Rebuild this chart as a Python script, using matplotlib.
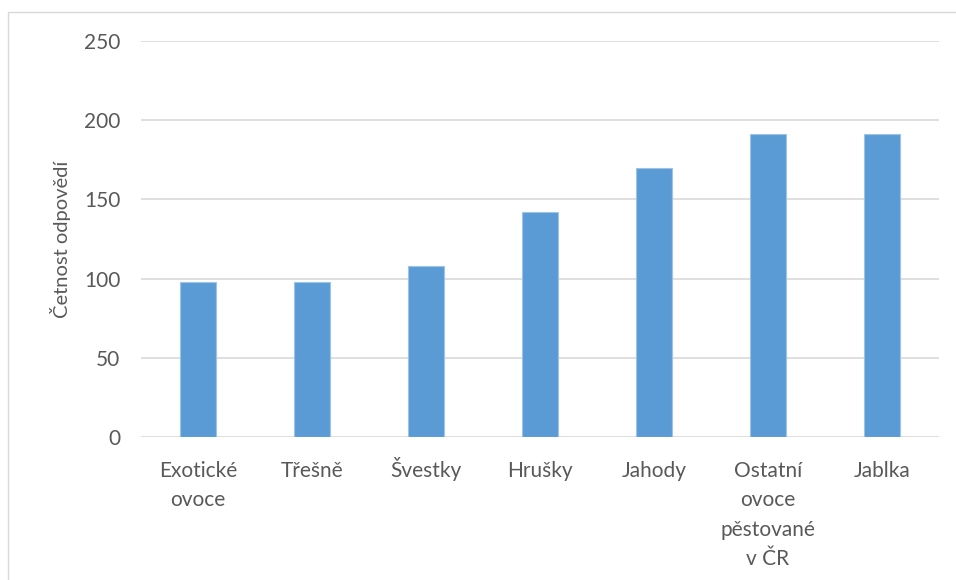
import matplotlib
matplotlib.use("Agg")
import matplotlib.pyplot as plt
from matplotlib.patches import Rectangle

categories = ["Exotické\novoce", "Třešně", "Švestky", "Hrušky", "Jahody",
              "Ostatní\novoce\npěstované\nv ČR", "Jablka"]
values = [98, 98, 108, 142, 170, 191, 191]
yticks = [0, 50, 100, 150, 200, 250]
ylabel = "Četnost odpovědí"

plt.rcParams['font.family'] = ['Lato', 'DejaVu Sans']
txt = '#595959'

fig = plt.figure(figsize=(9.56, 5.80), dpi=100)
fig.patches.append(Rectangle((8/956, -0.1), 2.0, 1 - 11.5/580 + 0.1,
                             transform=fig.transFigure, fill=False,
                             edgecolor='#d9d9d9', linewidth=1.0))
ax = fig.add_axes([141/956, 1 - 437/580, 798/956, 396/580])

x = range(len(categories))
ax.bar(x, values, width=0.315, color='#5b9bd5', edgecolor='#9dc3e6',
       linewidth=0.8, zorder=3)
ax.set_xlim(-0.5, len(categories) - 0.5)
ax.set_ylim(0, 250)
ax.set_yticks(yticks)
ax.set_xticks(list(x))
ax.set_xticklabels([])
for xi, lab in zip(x, categories):
    for k, line in enumerate(lab.split("\n")):
        ax.annotate(line, xy=(xi, 0), xycoords=('data', 'axes fraction'),
                    xytext=(0, -29 - 21 * k), textcoords='offset points',
                    ha='center', va='baseline', fontsize=15, color=txt,
                    annotation_clip=False)
ax.grid(axis='y', color='#d9d9d9', linewidth=1.2, zorder=0)
for s in ax.spines.values():
    s.set_visible(False)
ax.tick_params(axis='both', length=0, labelsize=15, colors=txt)
ax.tick_params(axis='y', pad=15)
ax.set_ylabel(ylabel, fontsize=14.5, color=txt, labelpad=9)

fig.savefig("out.png", dpi=100)
